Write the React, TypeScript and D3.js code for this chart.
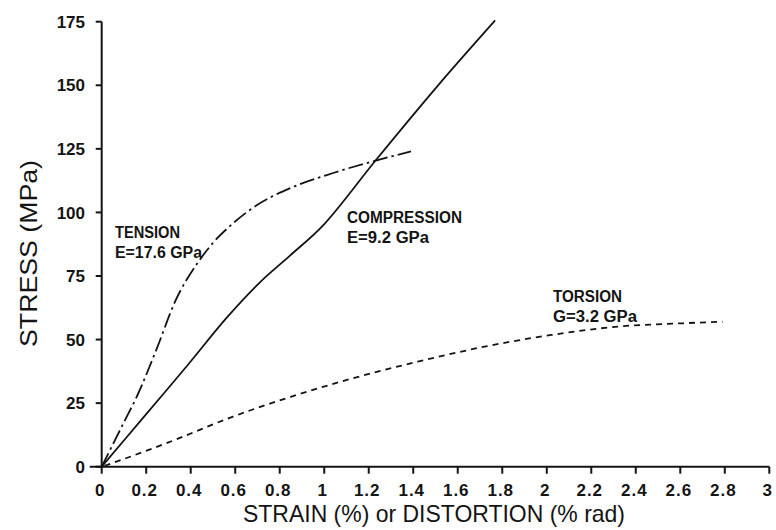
import React from "react";
import * as d3 from "d3";

// ---- data ----
const xTickValues = [0, 0.2, 0.4, 0.6, 0.8, 1, 1.2, 1.4, 1.6, 1.8, 2, 2.2, 2.4, 2.6, 2.8, 3];
const xTickLabels = ["0", "0.2", "0.4", "0.6", "0.8", "1", "1.2", "1.4", "1.6", "1.8", "2", "2.2", "2.4", "2.6", "2.8", "3"];
const yTickValues = [0, 25, 50, 75, 100, 125, 150, 175];
const yTickLabels = ["0", "25", "50", "75", "100", "125", "150", "175"];

const compressionStrain = [0, 0.18, 0.382, 0.562, 0.711, 0.846, 0.996, 1.236, 1.506, 1.768];
const compressionStress = [0, 18.6, 39.5, 58.6, 72.5, 83.0, 95.0, 121.0, 149.4, 175.5];

const tensionStrain = [0, 0.1, 0.16, 0.25, 0.33, 0.43, 0.5, 0.59, 0.7, 0.86, 1.04, 1.24, 1.39];
const tensionStress = [0, 17.5, 28, 47, 65, 80, 88, 95.7, 103, 110, 115.5, 120.6, 124];

const torsionDistortion = [0, 0.05, 0.29, 0.59, 0.85, 1.13, 1.42, 1.72, 2.02, 2.32, 2.61, 2.79];
const torsionStress = [0, 1.5, 9.2, 19.7, 27.5, 34.8, 41.3, 47.2, 51.8, 55.1, 56.4, 57.0];

const tensionLabel = ["TENSION", "E=17.6 GPa"];
const compressionLabel = ["COMPRESSION", "E=9.2 GPa"];
const torsionLabel = ["TORSION", "G=3.2 GPa"];
const xTitle = "STRAIN (%) or DISTORTION (% rad)";
const yTitle = "STRESS (MPa)";

const ink = "#141414";
const sans = "'Liberation Sans', Arial, sans-serif";

export default function App() {
  const x = d3.scaleLinear().domain([0, 3]).range([101.7, 769.3]);
  const y = d3.scaleLinear().domain([0, 175]).range([466.7, 21.7]);

  const zip = (a: number[], b: number[]) => a.map((v, i) => [v, b[i]] as [number, number]);
  const smooth = d3
    .line<[number, number]>()
    .x((d) => x(d[0]))
    .y((d) => y(d[1]))
    .curve(d3.curveMonotoneX);
  const catmull = d3
    .line<[number, number]>()
    .x((d) => x(d[0]))
    .y((d) => y(d[1]))
    .curve(d3.curveCatmullRom.alpha(0.5));

  const compressionPath = catmull(zip(compressionStrain, compressionStress)) || "";
  const tensionPath = smooth(zip(tensionStrain, tensionStress)) || "";
  const torsionPath = smooth(zip(torsionDistortion, torsionStress)) || "";

  const [x0, x1] = x.range();
  const [y0, y1] = y.range();

  const annot = (lines: string[], px: number, py: number, lens: number[], key: string) => (
    <g key={key} fill={ink} fontFamily={sans} fontWeight="bold" fontSize={16}>
      <text x={px} y={py} textLength={lens[0]} lengthAdjust="spacingAndGlyphs">
        {lines[0]}
      </text>
      <text x={px} y={py + 19.5} textLength={lens[1]} lengthAdjust="spacingAndGlyphs">
        {lines[1]}
      </text>
    </g>
  );

  return (
    <svg
      width={776}
      height={530}
      style={{ position: "absolute", left: 0, top: 0, background: "#fff" }}
    >
      <rect x={0} y={0} width={776} height={530} fill="#fff" />
      {/* axes */}
      <g stroke={ink} strokeWidth={2} fill="none">
        <line x1={x0 - 12} x2={x1} y1={y0} y2={y0} />
        <line x1={x0} x2={x0} y1={y0} y2={y1} />
        {xTickValues.map((v) => (
          <line key={"xt" + v} x1={x(v)} x2={x(v)} y1={y0} y2={y0 + 7} />
        ))}
        {yTickValues.map((v) => (
          <line key={"yt" + v} x1={x0 - 6} x2={x0} y1={y(v)} y2={y(v)} />
        ))}
      </g>
      {/* tick labels */}
      <g fill={ink} fontFamily={sans} fontWeight="bold" fontSize={17}>
        {xTickValues.map((v, i) => (
          <text key={"xl" + v} x={x(v) - 1.5} y={495.5} textAnchor="middle" letterSpacing={1}>
            {xTickLabels[i]}
          </text>
        ))}
        {yTickValues.map((v, i) => (
          <text key={"yl" + v} x={85} y={y(v)} dy="0.36em" textAnchor="end">
            {yTickLabels[i]}
          </text>
        ))}
      </g>
      {/* axis titles */}
      <text
        x={434}
        y={522}
        textAnchor="middle"
        fontFamily={sans}
        fontSize={24}
        fill={ink}
        textLength={382}
        lengthAdjust="spacingAndGlyphs"
      >
        {xTitle}
      </text>
      <text
        transform="translate(37,253.5) rotate(-90)"
        textAnchor="middle"
        fontFamily={sans}
        fontSize={24}
        fill={ink}
        textLength={187}
        lengthAdjust="spacingAndGlyphs"
      >
        {yTitle}
      </text>
      {/* curves */}
      <g fill="none" stroke={ink} strokeWidth={1.8} strokeLinecap="butt" strokeLinejoin="round">
        <path d={compressionPath} />
        <path d={tensionPath} strokeDasharray="15,4,2.5,4" />
        <path d={torsionPath} strokeDasharray="6,5" strokeDashoffset={-3} />
      </g>
      {/* annotations */}
      {annot(tensionLabel, 115, 238, [65, 87], "t")}
      {annot(compressionLabel, 347, 223, [115, 82], "c")}
      {annot(torsionLabel, 553, 302, [69, 84], "g")}
    </svg>
  );
}
